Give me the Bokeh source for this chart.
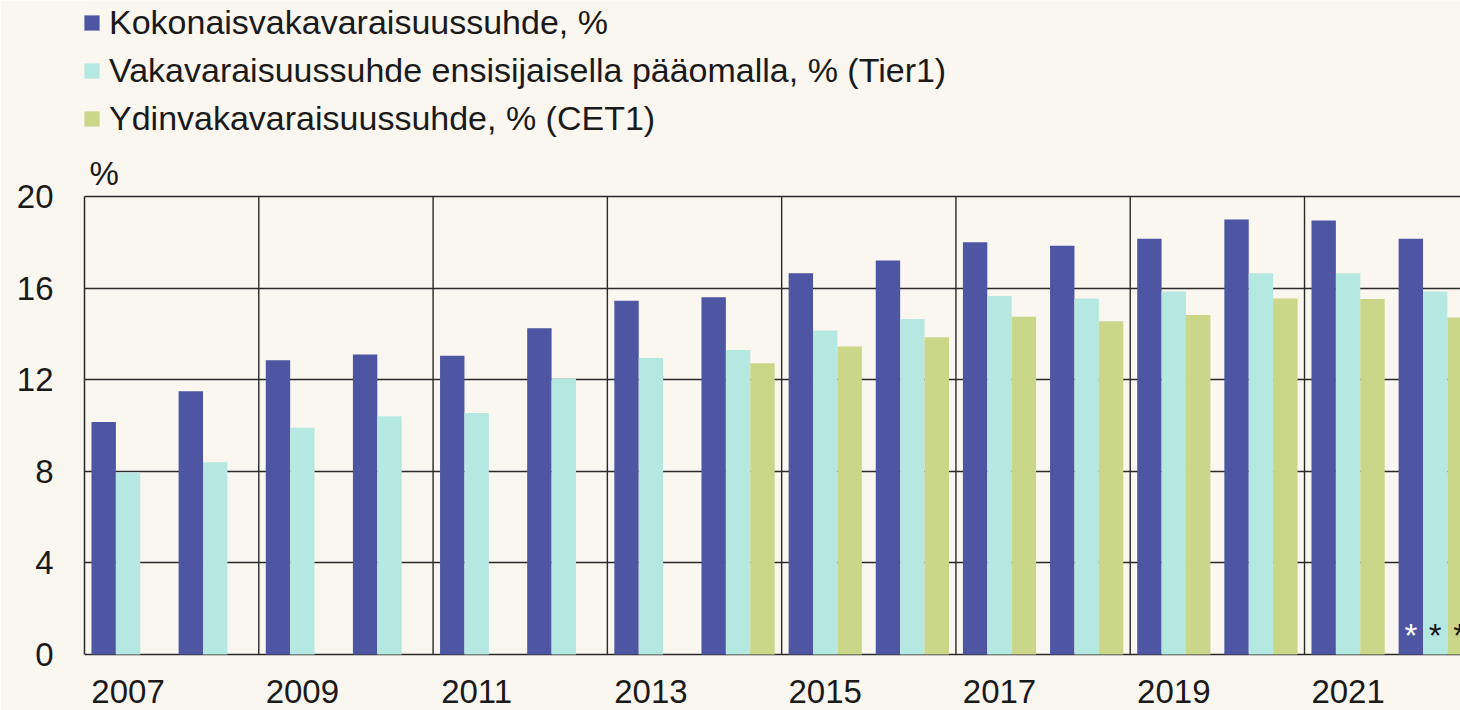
from bokeh.plotting import figure
from bokeh.models import ColumnDataSource, FixedTicker, Legend, LegendItem, Label, Range1d
from bokeh.transform import dodge
from bokeh.embed import file_html
from bokeh.resources import INLINE
from bokeh.core.properties import value

nan = float("nan")
years = list(range(2007, 2023))
total = [10.15, 11.5, 12.85, 13.1, 13.05, 14.25, 15.45, 15.6, 16.65, 17.2, 18.0, 17.85, 18.15, 19.0, 18.95, 18.15]
tier1 = [7.95, 8.4, 9.9, 10.4, 10.55, 12.05, 12.95, 13.3, 14.15, 14.65, 15.65, 15.55, 15.85, 16.65, 16.65, 15.85]
cet1 = [nan, nan, nan, nan, nan, nan, nan, 12.72, 13.45, 13.85, 14.75, 14.55, 14.83, 15.55, 15.52, 14.72]
series_names = ["Kokonaisvakavaraisuussuhde, %",
                "Vakavaraisuussuhde ensisijaisella pääomalla, % (Tier1)",
                "Ydinvakavaraisuussuhde, % (CET1)"]
x_tick_years = [2007, 2009, 2011, 2013, 2015, 2017, 2019, 2021]
x_tick_labels = ["2007", "2009", "2011", "2013", "2015", "2017", "2019", "2021"]
x_grid_breaks = [2008.5, 2010.5, 2012.5, 2014.5, 2016.5, 2018.5, 2020.5]
y_ticks = [0, 4, 8, 12, 16, 20]
y_top = 20
unit_label = "%"
prelim_year = 2022
prelim_marks = ["*", "*", "*"]

BG = "#FAF6F0"
C1, C2, C3 = "#4E55A3", "#B6E8E2", "#CAD688"
FONT = "Liberation Sans"
FS = "33px"
TXT = "#1a1a1a"
LINE = "#2a2a2a"

src = ColumnDataSource(dict(year=years, total=total, tier1=tier1, cet1=cet1))

# frame covers the whole canvas right of the value labels; values 0..20 use the middle of it
PX = 458 / 20.0
p = figure(width=1460, height=710, output_backend="svg", toolbar_location=None,
           x_range=Range1d(2006.5, 2022.29), y_range=Range1d(-56 / PX, 654 / PX),
           background_fill_color=BG, border_fill_color=BG, outline_line_color=None,
           min_border_left=84, min_border_right=0, min_border_top=0, min_border_bottom=0)

# vertical separators every two years (behind bars)
p.segment(x0=x_grid_breaks, y0=[0] * len(x_grid_breaks), x1=x_grid_breaks,
          y1=[y_top] * len(x_grid_breaks), line_color=LINE, line_width=1.4, level="underlay")

W = 0.28
r1 = p.vbar(x=dodge("year", -W, range=p.x_range), top="total", width=W, source=src,
            fill_color=C1, line_color=None)
r2 = p.vbar(x=dodge("year", 0, range=p.x_range), top="tier1", width=W, source=src,
            fill_color=C2, line_color=None)
r3 = p.vbar(x=dodge("year", W, range=p.x_range), top="cet1", width=W, source=src,
            fill_color=C3, line_color=None)

# preliminary markers
msrc = ColumnDataSource(dict(x=[prelim_year - W, prelim_year, prelim_year + W], y=[0, 0, 0],
                             t=prelim_marks, c=["white", TXT, TXT]))
p.text(x="x", y="y", text="t", source=msrc, text_color="c", text_align="center",
       text_baseline="alphabetic", y_offset=-19, text_font=value(FONT), text_font_size=FS)

# year labels under the baseline
p.text(x=x_tick_years, y=[0] * len(x_tick_years), text=x_tick_labels, text_align="center",
       text_baseline="top", y_offset=25, text_font=value(FONT), text_font_size=FS,
       text_color=TXT)

# axes
p.xaxis.visible = False
p.yaxis.ticker = FixedTicker(ticks=y_ticks)
p.yaxis.bounds = (0, y_top)
ax = p.yaxis[0]
ax.axis_line_color = LINE
ax.axis_line_width = 1.5
ax.major_tick_line_color = None
ax.minor_tick_line_color = None
ax.major_tick_out = 0
ax.major_tick_in = 0
ax.major_label_text_font = FONT
ax.major_label_text_font_size = FS
ax.major_label_text_color = TXT
ax.major_label_standoff = 31

p.xgrid.visible = False
p.ygrid.ticker = FixedTicker(ticks=y_ticks)
p.ygrid.grid_line_color = LINE
p.ygrid.grid_line_width = 1.4

# unit label above the value axis
p.add_layout(Label(x=2006.5, y=y_top, x_offset=5, y_offset=23, text=unit_label,
                   text_font=FONT, text_font_size=FS, text_color=TXT,
                   text_baseline="alphabetic"))

legend = Legend(items=[LegendItem(label=series_names[0], renderers=[r1]),
                       LegendItem(label=series_names[1], renderers=[r2]),
                       LegendItem(label=series_names[2], renderers=[r3])],
                location=(-2, 572), orientation="vertical",
                label_text_font=FONT, label_text_font_size="34px", label_text_color=TXT,
                glyph_width=19, glyph_height=19, label_standoff=8, label_height=40,
                spacing=8, padding=0, margin=0,
                background_fill_alpha=0, border_line_color=None)
p.add_layout(legend, "center")

open("out.html", "w").write(file_html(p, INLINE))
